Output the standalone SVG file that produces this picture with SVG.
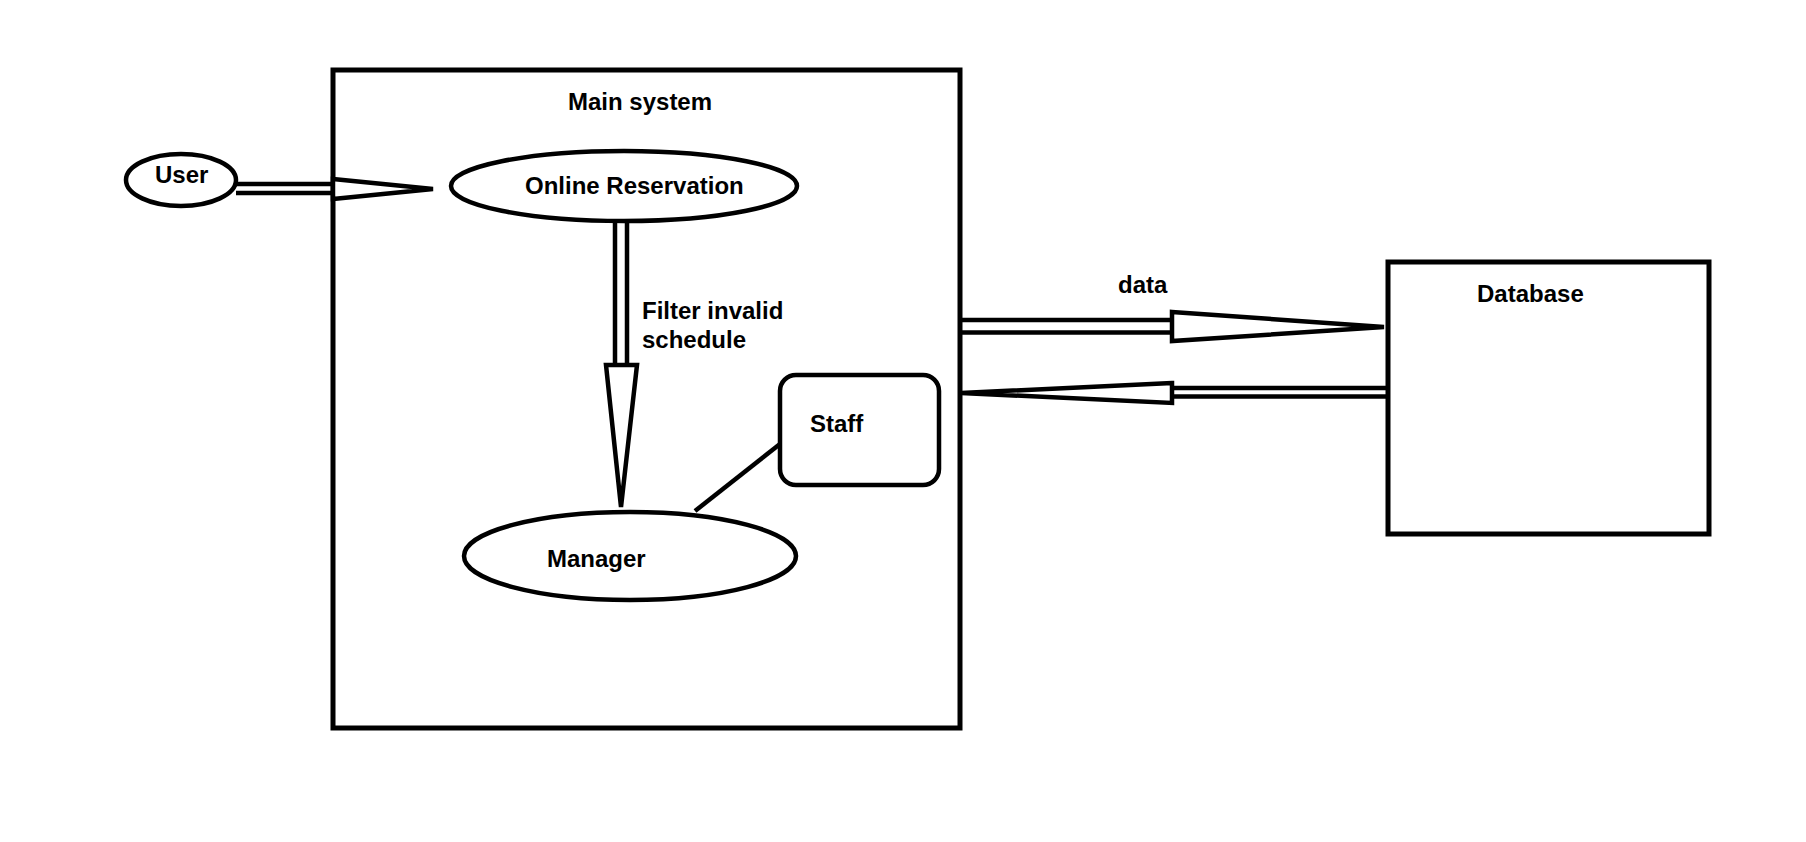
<svg xmlns="http://www.w3.org/2000/svg" width="1806" height="842" viewBox="0 0 1806 842">
<style>
  .shape { fill: #ffffff; stroke: #000000; stroke-width: 4.5; }
  .box { fill: #ffffff; stroke: #000000; stroke-width: 5; }
  .line { fill: none; stroke: #000000; stroke-width: 4.5; }
  .head { fill: #ffffff; stroke: #000000; stroke-width: 4.5; stroke-linejoin: miter; }
  .label { font-family: "Liberation Sans", Arial, sans-serif; font-weight: bold; font-size: 24px; fill: #000000; }
</style>
<rect width="1806" height="842" fill="#ffffff"/>
<g id="main-system">
  <rect class="box" x="333" y="70" width="627" height="658"/>
  <text class="label" x="568" y="110">Main system</text>
</g>
<g id="database">
  <rect class="box" x="1388" y="262" width="321" height="272"/>
  <text class="label" x="1477" y="302">Database</text>
</g>
<g id="user">
  <ellipse class="shape" cx="181" cy="180" rx="55" ry="26"/>
  <text class="label" x="155" y="183">User</text>
</g>
<g id="online-reservation">
  <ellipse class="shape" cx="624" cy="186" rx="173" ry="35"/>
  <text class="label" x="525" y="194">Online Reservation</text>
</g>
<g id="manager">
  <ellipse class="shape" cx="630" cy="556" rx="166" ry="44"/>
  <text class="label" x="547" y="567">Manager</text>
</g>
<g id="staff">
  <rect class="shape" x="780" y="375" width="159" height="110" rx="16" ry="16"/>
  <text class="label" x="810" y="432">Staff</text>
</g>
<g id="connectors">
  <!-- User to Online Reservation -->
  <line class="line" x1="236" y1="184" x2="333" y2="184"/>
  <line class="line" x1="236" y1="193" x2="333" y2="193"/>
  <polygon class="head" points="333,179 433,189 333,199"/>
  <!-- Online Reservation to Manager -->
  <line class="line" x1="615" y1="221" x2="615" y2="366"/>
  <line class="line" x1="627" y1="221" x2="627" y2="366"/>
  <polygon class="head" points="606,365 637,365 621,507"/>
  <text class="label" x="642" y="319">Filter invalid</text>
  <text class="label" x="642" y="348">schedule</text>
  <!-- Staff to Manager -->
  <line class="line" x1="780" y1="444" x2="695" y2="511"/>
  <!-- Main system to Database -->
  <line class="line" x1="960" y1="320" x2="1172" y2="320"/>
  <line class="line" x1="960" y1="332.5" x2="1172" y2="332.5"/>
  <polygon class="head" points="1172,312 1384,327 1172,341"/>
  <text class="label" x="1118" y="293">data</text>
  <!-- Database to Main system -->
  <line class="line" x1="1172" y1="388" x2="1388" y2="388"/>
  <line class="line" x1="1172" y1="396.5" x2="1388" y2="396.5"/>
  <polygon class="head" points="1172,383 961,393 1172,403"/>
</g>
</svg>
